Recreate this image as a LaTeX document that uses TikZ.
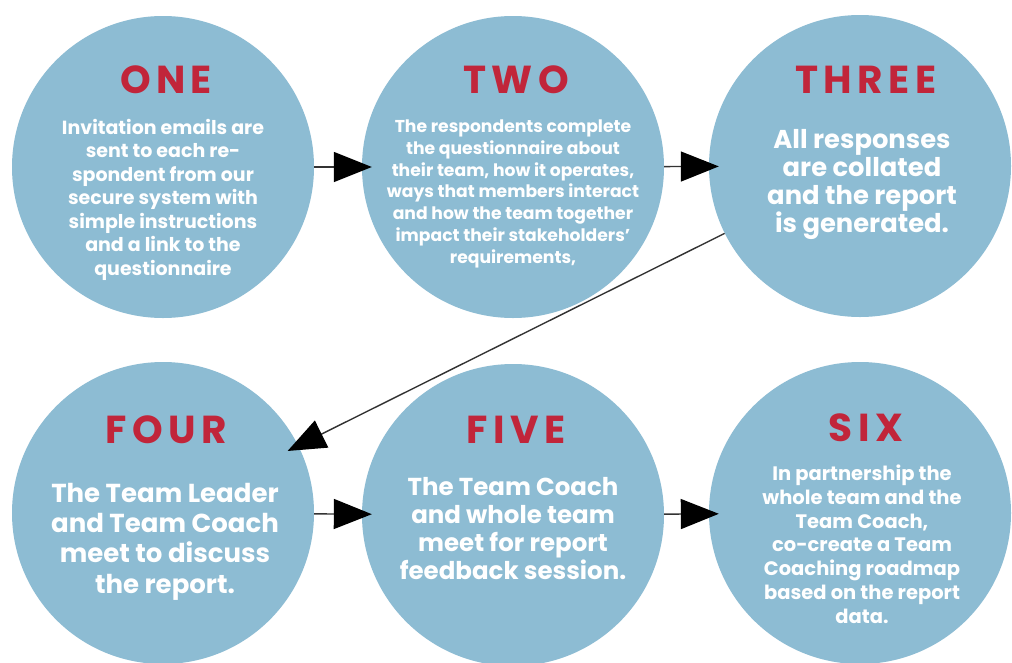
\documentclass[tikz,border=0pt]{standalone}
\usepackage{fontspec}
\setmainfont{Poppins}
\newfontfamily\titlefont[LetterSpace=14]{Poppins}
\usetikzlibrary{arrows.meta,shapes.geometric}
\definecolor{circblue}{HTML}{8DBCD3}
\definecolor{titlered}{HTML}{C1253A}
\definecolor{lineg}{HTML}{333333}
\tikzset{
  stepcircle/.style={circle,fill=circblue,draw=none,minimum size=302pt,inner sep=0pt},
  steptitle/.style={anchor=base,inner sep=0pt,text=titlered,font=\titlefont\bfseries\fontsize{39}{40}\selectfont},
  bodytext/.style={anchor=base,inner sep=0pt,align=center,text=white},
  conn/.style={draw=lineg,line width=1.4pt,-{Triangle[length=38pt,width=30pt,fill=black,color=black]},shorten >=-10pt}
}
\begin{document}
\begin{tikzpicture}[x=1pt,y=-1pt]
\useasboundingbox[fill=white] (0,0) rectangle (1012,662);
\node[stepcircle] (one) at (163,167) {};
\node[stepcircle] (two) at (513,167) {};
\node[stepcircle] (three) at (860,166) {};
\node[stepcircle] (four) at (163,513) {};
\node[stepcircle] (five) at (513,515) {};
\node[stepcircle] (six) at (860,513) {};

\draw[conn] (one) -- (two);
\draw[conn] (two) -- (three);
\draw[conn,shorten >=-12pt] (three) -- (four);
\draw[conn] (four) -- (five);
\draw[conn] (five) -- (six);

\node[steptitle] (t1) at (166,93) {ONE};
\node[steptitle] (t2) at (516,93) {TWO};
\node[steptitle] (t3) at (866,93) {THREE};
\node[steptitle] (t4) at (166,443) {FOUR};
\node[steptitle] (t5) at (516,443) {FIVE};
\node[steptitle] (t6) at (866,441) {SIX};

\node[bodytext,font=\bfseries\fontsize{19}{23.5}\selectfont] (b1) at (163,275) {Invitation emails are\\sent to each re-\\spondent from our\\secure system with\\simple instructions\\and a link to the\\questionnaire};
\node[bodytext,font=\bfseries\fontsize{17.2}{21.7}\selectfont] (b2) at (513,263) {The respondents complete\\the questionnaire about\\their team, how it operates,\\ways that members interact\\and how the team together\\impact their stakeholders'\\requirements,};
\node[bodytext,font=\bfseries\fontsize{25.8}{28}\selectfont] (b3) at (862,232) {All responses\\are collated\\and the report\\is generated.};
\node[bodytext,font=\bfseries\fontsize{26}{30.3}\selectfont] (b4) at (165,593) {The Team Leader\\and Team Coach\\meet to discuss\\the report.};
\node[bodytext,font=\bfseries\fontsize{24.5}{27.7}\selectfont] (b5) at (513,579) {The Team Coach\\and whole team\\meet for report\\feedback session.};
\node[bodytext,font=\bfseries\fontsize{19.5}{23.7}\selectfont] (b6) at (862,623) {In partnership the\\whole team and the\\Team Coach,\\co-create a Team\\Coaching roadmap\\based on the report\\data.};
\end{tikzpicture}
\end{document}
